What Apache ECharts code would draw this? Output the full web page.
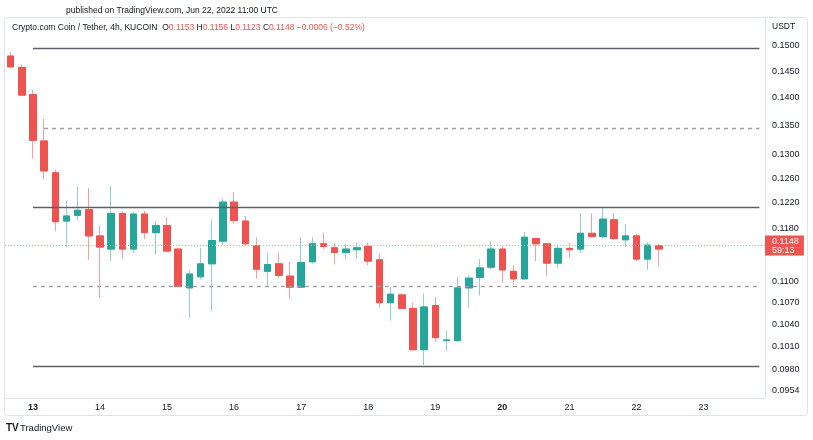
<!DOCTYPE html>
<html><head><meta charset="utf-8">
<script src="https://cdn.jsdelivr.net/npm/echarts@6/dist/echarts.min.js"></script>
<style>html,body{margin:0;padding:0;background:#fff}#c{width:813px;height:440px}</style>
</head><body><div id="c"></div><script>
// 4h candle times (day hh:mm), Jun 2022
const categories = [
'12 16:00','12 20:00',
'13 00:00','13 04:00','13 08:00','13 12:00','13 16:00','13 20:00',
'14 00:00','14 04:00','14 08:00','14 12:00','14 16:00','14 20:00',
'15 00:00','15 04:00','15 08:00','15 12:00','15 16:00','15 20:00',
'16 00:00','16 04:00','16 08:00','16 12:00','16 16:00','16 20:00',
'17 00:00','17 04:00','17 08:00','17 12:00','17 16:00','17 20:00',
'18 00:00','18 04:00','18 08:00','18 12:00','18 16:00','18 20:00',
'19 00:00','19 04:00','19 08:00','19 12:00','19 16:00','19 20:00',
'20 00:00','20 04:00','20 08:00','20 12:00','20 16:00','20 20:00',
'21 00:00','21 04:00','21 08:00','21 12:00','21 16:00','21 20:00',
'22 00:00','22 04:00','22 08:00','22 12:00','22 16:00','22 20:00',
'23 00:00','23 04:00','23 08:00','23 12:00','23 16:00','23 20:00'
];
const openP = [0.1479,0.1457,0.1406,0.1323,0.1269,0.1191,0.1200,0.1209,0.1168,0.1148,
0.1203,0.1148,0.1202,0.1173,0.1184,0.1148,0.1091,0.1107,0.1126,0.1160,
0.1221,0.1191,0.1153,0.1115,0.1126,0.1108,0.1092,0.1129,0.1156,0.1150,
0.1143,0.1147,0.1152,0.1132,0.1070,0.1081,0.1062,0.1006,0.1066,0.1018,
0.1018,0.1091,0.1106,0.1121,0.1148,0.1115,0.1104,0.1164,0.1156,0.1127,
0.1149,0.1148,0.1172,0.1167,0.1193,0.1162,0.1168,0.1133,0.1153];
const highP = [0.1486,0.1463,0.1415,0.1362,0.1274,0.1223,0.1246,0.1244,0.1184,0.1247,
0.1206,0.1206,0.1207,0.1191,0.1197,0.1149,0.1116,0.1150,0.1193,0.1226,
0.1237,0.1199,0.1166,0.1143,0.1143,0.1129,0.1166,0.1166,0.1173,0.1157,
0.1156,0.1158,0.1158,0.1141,0.1092,0.1083,0.1070,0.1083,0.1078,0.1032,
0.1106,0.1110,0.1133,0.1160,0.1152,0.1124,0.1174,0.1165,0.1157,0.1155,
0.1158,0.1203,0.1203,0.1212,0.1204,0.1186,0.1171,0.1159,0.1156];
const lowP = [0.1455,0.1404,0.1293,0.1258,0.1175,0.1151,0.1192,0.1132,0.1077,0.1130,
0.1133,0.1142,0.1163,0.1139,0.1144,0.1092,0.1049,0.1103,0.1058,0.1154,
0.1187,0.1152,0.1104,0.1094,0.1104,0.1075,0.1091,0.1126,0.1148,0.1125,
0.1132,0.1133,0.1124,0.1063,0.1045,0.1061,0.1005,0.0986,0.1016,0.1004,
0.1016,0.1063,0.1080,0.1118,0.1099,0.1095,0.1103,0.1130,0.1108,0.1120,
0.1134,0.1142,0.1165,0.1164,0.1162,0.1151,0.1130,0.1117,0.1123];
const closeP = [0.1458,0.1405,0.1324,0.1272,0.1190,0.1199,0.1208,0.1168,0.1151,0.1203,
0.1148,0.1202,0.1173,0.1184,0.1145,0.1093,0.1111,0.1126,0.1161,0.1221,
0.1192,0.1156,0.1118,0.1125,0.1109,0.1092,0.1128,0.1156,0.1152,0.1143,
0.1148,0.1150,0.1130,0.1070,0.1082,0.1062,0.1006,0.1064,0.1022,0.1019,
0.1091,0.1105,0.1120,0.1148,0.1117,0.1104,0.1166,0.1156,0.1127,0.1149,
0.1147,0.1172,0.1167,0.1194,0.1164,0.1168,0.1133,0.1154,0.1148];
const priceTicks = [0.1500,0.1450,0.1400,0.1350,0.1300,0.1260,0.1220,0.1180,0.1100,0.1070,0.1040,0.1010,0.0980,0.0954];
const solidLevels = [0.1495, 0.1212, 0.0985];
const dashedLevels = [0.1346, 0.1093];
const dashedStart = ['13 04:00', '13 00:00'];
const lastPrice = 0.1148;
const priceRange = [0.09442, 0.15567];
const boldDays = ['13', '20'];

const L = Math.log;
const UP = '#26a69a', DOWN = '#ef5350';
const wickData = openP.map((o, i) => [L(o), L(closeP[i]), L(lowP[i]), L(highP[i])]);
const bodyData = openP.map((o, i) => [L(o), L(closeP[i]), L(Math.min(o, closeP[i])), L(Math.max(o, closeP[i]))]);

const markData = [];
solidLevels.forEach(v => markData.push([
  {coord: [categories[2], L(v)], lineStyle: {color: '#5d6069', width: 1.3, type: 'solid'}},
  {coord: [categories[categories.length - 1], L(v)]}
]));
dashedLevels.forEach((v, k) => markData.push([
  {coord: [dashedStart[k], L(v)], lineStyle: {color: '#9a9ca3', width: 1.3, type: [4, 4]}},
  {coord: [categories[categories.length - 1], L(v)]}
]));
markData.push({
  yAxis: L(lastPrice),
  lineStyle: {color: '#f4a3a1', width: 1, type: [1, 2]},
  label: {
    show: true, position: 'end', distance: 0,
    formatter: lastPrice.toFixed(4) + '\n59:13',
    backgroundColor: '#f05350', color: '#ffffff', fontSize: 9, lineHeight: 9,
    padding: [1, 5, 1, 7], fontFamily: 'Arial'
  }
});

const chart = echarts.init(document.getElementById('c'), null, {renderer: 'canvas'});
chart.setOption({
  animation: false,
  backgroundColor: '#ffffff',
  grid: {left: 5, right: 48, top: 17, bottom: 42},
  xAxis: {
    type: 'category', data: categories, boundaryGap: true,
    axisLine: {show: true, lineStyle: {color: '#e0e3eb'}},
    axisTick: {show: false},
    splitLine: {show: false},
    axisLabel: {
      interval: (i, v) => v.endsWith('00:00'),
      formatter: v => { const d = v.slice(0, 2); return boldDays.includes(d) ? '{b|' + d + '}' : d; },
      rich: {b: {fontWeight: 'bold', fontSize: 9, color: '#131722', fontFamily: 'Arial'}},
      color: '#131722', fontSize: 9, margin: 5, fontFamily: 'Arial'
    }
  },
  yAxis: {
    type: 'value', position: 'right', scale: true,
    min: L(priceRange[0]), max: L(priceRange[1]),
    axisLine: {show: true, lineStyle: {color: '#e0e3eb'}},
    axisTick: {show: false},
    splitLine: {show: false},
    axisLabel: {
      customValues: priceTicks.map(L),
      formatter: v => Math.exp(v).toFixed(4),
      color: '#131722', fontSize: 9, margin: 7, fontFamily: 'Arial'
    }
  },
  series: [
    {
      type: 'candlestick', data: wickData, barWidth: 7, silent: true,
      itemStyle: {color: '#8fd0c8', color0: '#f6a09e', borderColor: '#8fd0c8', borderColor0: '#f6a09e', borderColorDoji: '#8fd0c8', borderWidth: 1}
    },
    {
      type: 'candlestick', data: bodyData, barWidth: 7, silent: true,
      itemStyle: {color: UP, color0: DOWN, borderColor: UP, borderColor0: DOWN, borderColorDoji: UP, borderWidth: 1},
      markLine: {silent: true, symbol: ['none', 'none'], label: {show: false}, data: markData, animation: false}
    }
  ],
  graphic: [
    {type: 'rect', shape: {x: 4.5, y: 17.5, width: 803, height: 398, r: 3}, style: {fill: 'none', stroke: '#e0e3eb', lineWidth: 1}, silent: true, z: -1},
    {type: 'text', x: 172, y: 11, style: {text: 'published on TradingView.com, Jun 22, 2022 11:00 UTC', fill: '#131722', font: '8.5px Arial', align: 'center', verticalAlign: 'middle'}},
    {type: 'text', x: 12, y: 28, style: {
      text: 'Crypto.com Coin / Tether, 4h, KUCOIN  O{r|0.1153} H{r|0.1156} L{r|0.1123} C{r|0.1148} {r|−0.0006 (−0.52%)}',
      rich: {r: {fill: '#ef5350', font: '8.5px Arial'}},
      fill: '#131722', font: '8.5px Arial', verticalAlign: 'middle'}},
    {type: 'text', x: 772, y: 27, style: {text: 'USDT', fill: '#131722', font: '8.5px Arial', verticalAlign: 'middle'}},
    {type: 'text', x: 6, y: 428, style: {text: 'TV', fill: '#131722', font: 'bold 10px Arial', verticalAlign: 'middle'}},
    {type: 'text', x: 20, y: 428, style: {text: 'TradingView', fill: '#131722', font: '9.5px Arial', verticalAlign: 'middle'}}
  ]
});
</script></body></html>
